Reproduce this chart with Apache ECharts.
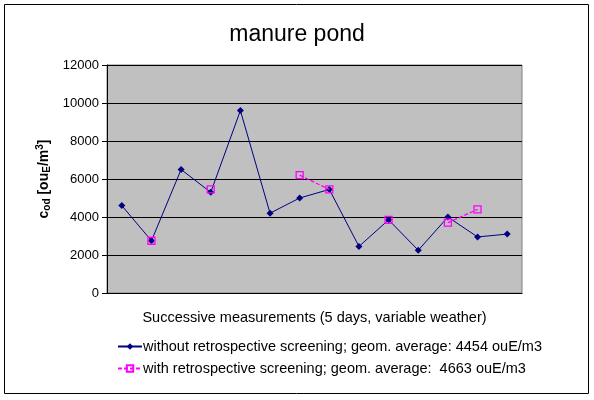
<!DOCTYPE html>
<html>
<head>
<meta charset="utf-8">
<script src="https://cdn.jsdelivr.net/npm/echarts@6/dist/echarts.min.js"></script>
<style>html,body{margin:0;padding:0;background:#fff;}#c{width:594px;height:400px;}</style>
</head>
<body>
<div id="c"></div>
<script>
var categories = ['1','2','3','4','5','6','7','8','9','10','11','12','13','14'];
var withoutScreening = [4600, 2750, 6500, 5300, 9600, 4200, 5000, 5450, 2450, 3850, 2250, 4000, 2950, 3100];
var withScreening = [null, 2750, null, 5450, null, null, 6200, 5450, null, 3850, null, 3700, 4400, null];
var seriesNames = ['without retrospective screening; geom. average: 4454 ouE/m3',
                   'with retrospective screening; geom. average:  4663 ouE/m3'];
var yTicks = [0, 2000, 4000, 6000, 8000, 10000, 12000];

var chart = echarts.init(document.getElementById('c'), null, {renderer: 'canvas'});
var F = 'Arial, "Liberation Sans", sans-serif';
chart.setOption({
  animation: false,
  backgroundColor: '#fff',
  title: {
    text: 'manure pond', left: 'center', top: 18,
    textStyle: {fontFamily: F, fontSize: 23, fontWeight: 'normal', color: '#000'}
  },
  graphic: [{
    type: 'rect', shape: {x: 4.5, y: 4.5, width: 584, height: 389},
    style: {fill: 'none', stroke: '#000', lineWidth: 1}, silent: true, z: -1
  }],
  grid: {
    left: 107, top: 65, width: 415, height: 228,
    show: true, backgroundColor: '#C0C0C0', borderColor: '#808080', borderWidth: 1
  },
  legend: {
    orient: 'vertical', left: 112, top: 334, itemGap: 7,
    itemWidth: 24, itemHeight: 8,
    textStyle: {fontFamily: F, fontSize: 14.5, color: '#000', padding: [0, 0, 0, -4]},
    data: seriesNames
  },
  xAxis: {
    type: 'category', data: categories, boundaryGap: true,
    name: 'Successive measurements (5 days, variable weather)',
    nameLocation: 'middle', nameGap: 17,
    nameTextStyle: {fontFamily: F, fontSize: 14.5, color: '#000'},
    axisLine: {lineStyle: {color: '#000', width: 1}},
    axisTick: {show: false}, axisLabel: {show: false}
  },
  yAxis: {
    type: 'value', min: yTicks[0], max: yTicks[yTicks.length - 1], interval: 2000,
    name: '{c|c}{sub|od}{c| [ou}{sub|E}{c|/m}{sup|3}{c|]}',
    nameLocation: 'middle', nameGap: 47, nameRotate: 90,
    nameTextStyle: {
      rich: {
        c: {fontFamily: F, fontSize: 14, fontWeight: 'bold', color: '#000'},
        sub: {fontFamily: F, fontSize: 10, fontWeight: 'bold', color: '#000', padding: [5, 0, 0, 0]},
        sup: {fontFamily: F, fontSize: 10, fontWeight: 'bold', color: '#000', padding: [0, 0, 8, 0]}
      }
    },
    axisLine: {show: true, lineStyle: {color: '#000', width: 1}},
    axisTick: {show: true, inside: false, length: 5, lineStyle: {color: '#000'}},
    axisLabel: {fontFamily: F, fontSize: 13, color: '#000', margin: 8,
      formatter: function (v) { return String(v); }},
    splitLine: {show: true, lineStyle: {color: '#000', width: 1}}
  },
  series: [{
    name: seriesNames[0], type: 'line', data: withoutScreening,
    symbol: 'diamond', symbolSize: 7,
    lineStyle: {color: '#000080', width: 1},
    itemStyle: {color: '#000080'},
    z: 2
  }, {
    name: seriesNames[1], type: 'line', data: withScreening, connectNulls: false,
    symbol: 'rect', symbolSize: 7,
    lineStyle: {color: '#FF00FF', width: 1.3, type: [4, 2]},
    itemStyle: {color: 'rgba(0,0,0,0)', borderColor: '#FF00FF', borderWidth: 1.3},
    z: 3
  }]
});
</script>
</body>
</html>
